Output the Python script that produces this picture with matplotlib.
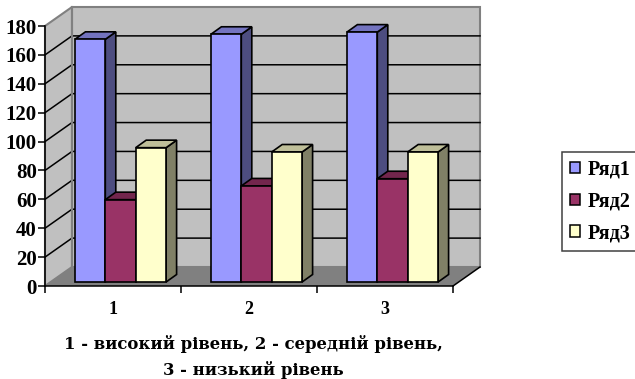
import numpy as np
from matplotlib import pyplot as plt
from matplotlib.patches import Polygon, Patch

categories = ["1", "2", "3"]
series_names = ["Ряд1", "Ряд2", "Ряд3"]
row1 = [168, 171.5, 173]
row2 = [57, 66.5, 71.5]
row3 = [93, 90, 90]
yticks = list(range(0, 181, 20))
caption1 = "1 - високий рівень, 2 - середній рівень,"
caption2 = "3 - низький рівень"

front = ["#9999FF", "#993366", "#FFFFCC"]
top = ["#7373BF", "#73264D", "#BFBF99"]
side = ["#4D4D80", "#4D1A33", "#808066"]

W, H = 635, 379
plt.rcParams['font.family'] = ['Liberation Serif', 'DejaVu Serif']
plt.rcParams['font.weight'] = 'bold'

fig = plt.figure(figsize=(W / 100, H / 100), dpi=100)
# axes = front plane of the 3d box, pixels
ax = fig.add_axes([45 / W, 1 - 286 / H, 408 / W, 260 / H])
ax.set_xlim(0, 3)
ax.set_ylim(0, 180)
ax.patch.set_visible(False)

px = 3 / 408
py = 180 / 260
wall_dx, wall_dy = 27 * px, 19 * py


def poly(pts, fc, ec="none", lw=0, z=1):
    ax.add_patch(Polygon(pts, closed=True, facecolor=fc, edgecolor=ec, linewidth=lw,
                         clip_on=False, zorder=z, joinstyle="miter"))


# walls and floor
poly([(0, 0), (wall_dx, wall_dy), (wall_dx, 180 + wall_dy), (0, 180)], "#C0C0C0", "#808080", 1.5)
poly([(wall_dx, wall_dy), (3 + wall_dx, wall_dy), (3 + wall_dx, 180 + wall_dy), (wall_dx, 180 + wall_dy)],
     "#C0C0C0", "#808080", 1.5)
poly([(0, 0), (wall_dx, wall_dy), (3 + wall_dx, wall_dy), (3, 0)], "#808080")

for v in yticks[1:-1]:
    ax.plot([0, wall_dx, 3 + wall_dx], [v, v + wall_dy, v + wall_dy], color="black", lw=1.1,
            clip_on=False, zorder=2)
ax.plot([3, 3 + wall_dx], [0, wall_dy], color="black", lw=1.1, clip_on=False, zorder=2)
ax.plot([wall_dx, wall_dx], [wall_dy, 180 + wall_dy], color="#808080", lw=1.5, clip_on=False, zorder=2)

# bars
bar_w = 30.4 * px
bar_dx, bar_dy = 10.5 * px, 7.5 * py
base = 4 * py
x0 = np.arange(3) + 7.5 * px + 0.5
for i, vals in enumerate([row1, row2, row3]):
    xs = x0 + (i - 1) * bar_w
    z = 5 + i
    for x, v in zip(xs, vals):
        l, r = x - bar_w / 2, x + bar_w / 2
        t = base + v
        poly([(r, base), (r + bar_dx, base + bar_dy), (r + bar_dx, t + bar_dy), (r, t)],
             side[i], "black", 1.2, z)
        poly([(l, t), (l + bar_dx, t + bar_dy), (r + bar_dx, t + bar_dy), (r, t)],
             top[i], "black", 1.2, z)
    ax.bar(xs, vals, width=bar_w, bottom=base, color=front[i], edgecolor="black", linewidth=1.2,
           zorder=z + 0.5, clip_on=False)

for s in ["top", "right"]:
    ax.spines[s].set_visible(False)
for s in ["left", "bottom"]:
    ax.spines[s].set_linewidth(1.1)
    ax.spines[s].set_zorder(3)

ax.set_yticks(yticks)
ax.tick_params(axis="y", length=5, width=1.1, pad=1, labelsize=15)
ax.set_xticks([0, 1, 2, 3])
ax.set_xticklabels([])
ax.set_xticks([0.5, 1.5, 2.5], categories, minor=True)
ax.tick_params(axis="x", which="major", length=5, width=1.1)
ax.tick_params(axis="x", which="minor", length=0, pad=11, labelsize=13)

cap_font = ['DejaVu Serif', 'Liberation Serif']
fig.text(253 / W, 1 - 344 / H, caption1, ha="center", va="center", fontsize=11.9, fontweight="bold", family=cap_font)
fig.text(253 / W, 1 - 370 / H, caption2, ha="center", va="center", fontsize=11.9, fontweight="bold", family=cap_font)

handles = [Patch(facecolor=front[i], edgecolor="black", linewidth=1.1, label=series_names[i]) for i in range(3)]
leg = fig.legend(handles=handles, loc="upper left", bbox_to_anchor=(562 / W, 1 - 152 / H),
                 borderaxespad=0, frameon=True, fancybox=False, edgecolor="#404040", framealpha=1,
                 fontsize=14.5, handlelength=0.52, handleheight=0.52, handletextpad=0.38,
                 labelspacing=0.59, borderpad=0.38)
leg.get_frame().set_linewidth(1.1)

fig.savefig("out.png", dpi=100)
